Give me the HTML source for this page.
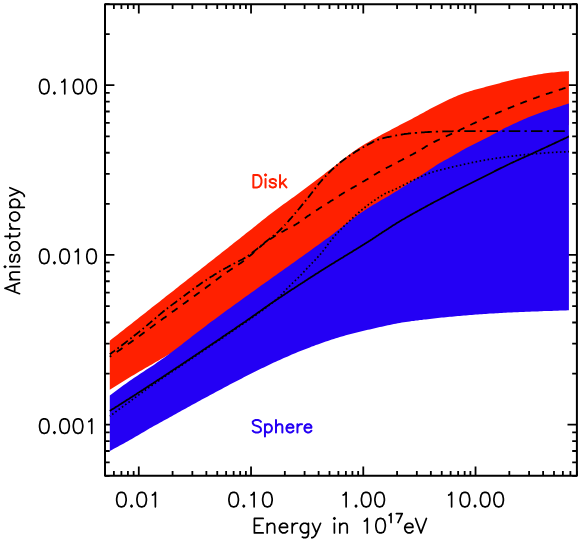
<!DOCTYPE html>
<html><head><meta charset="utf-8"><title>Anisotropy</title>
<style>html,body{margin:0;padding:0;background:#fff;}body{font-family:"Liberation Sans",sans-serif;}svg{display:block;}</style></head>
<body>
<svg width="581" height="542" viewBox="0 0 581 542">
<rect width="581" height="542" fill="#fff"/>
<path d="M105.00 475.8V471.10M105.00 4.2V8.90M113.89 475.8V471.10M113.89 4.2V8.90M121.40 475.8V471.10M121.40 4.2V8.90M127.91 475.8V471.10M127.91 4.2V8.90M133.65 475.8V471.10M133.65 4.2V8.90M138.79 475.8V466.40M138.79 4.2V13.60M172.58 475.8V471.10M172.58 4.2V8.90M192.35 475.8V471.10M192.35 4.2V8.90M206.37 475.8V471.10M206.37 4.2V8.90M217.25 475.8V471.10M217.25 4.2V8.90M226.13 475.8V471.10M226.13 4.2V8.90M233.65 475.8V471.10M233.65 4.2V8.90M240.16 475.8V471.10M240.16 4.2V8.90M245.90 475.8V471.10M245.90 4.2V8.90M251.04 475.8V466.40M251.04 4.2V13.60M284.83 475.8V471.10M284.83 4.2V8.90M304.59 475.8V471.10M304.59 4.2V8.90M318.62 475.8V471.10M318.62 4.2V8.90M329.49 475.8V471.10M329.49 4.2V8.90M338.38 475.8V471.10M338.38 4.2V8.90M345.90 475.8V471.10M345.90 4.2V8.90M352.41 475.8V471.10M352.41 4.2V8.90M358.15 475.8V471.10M358.15 4.2V8.90M363.28 475.8V466.40M363.28 4.2V13.60M397.07 475.8V471.10M397.07 4.2V8.90M416.84 475.8V471.10M416.84 4.2V8.90M430.86 475.8V471.10M430.86 4.2V8.90M441.74 475.8V471.10M441.74 4.2V8.90M450.63 475.8V471.10M450.63 4.2V8.90M458.14 475.8V471.10M458.14 4.2V8.90M464.65 475.8V471.10M464.65 4.2V8.90M470.39 475.8V471.10M470.39 4.2V8.90M475.53 475.8V466.40M475.53 4.2V13.60M509.32 475.8V471.10M509.32 4.2V8.90M529.09 475.8V471.10M529.09 4.2V8.90M543.11 475.8V471.10M543.11 4.2V8.90M553.99 475.8V471.10M553.99 4.2V8.90M562.88 475.8V471.10M562.88 4.2V8.90M570.39 475.8V471.10M570.39 4.2V8.90M576.90 475.8V471.10M576.90 4.2V8.90M105.0 475.80H109.70M576.9 475.80H572.20M105.0 462.36H109.70M576.9 462.36H572.20M105.0 450.99H109.70M576.9 450.99H572.20M105.0 441.15H109.70M576.9 441.15H572.20M105.0 432.47H109.70M576.9 432.47H572.20M105.0 424.70H114.40M576.9 424.70H567.50M105.0 373.60H109.70M576.9 373.60H572.20M105.0 343.71H109.70M576.9 343.71H572.20M105.0 322.50H109.70M576.9 322.50H572.20M105.0 306.05H109.70M576.9 306.05H572.20M105.0 292.61H109.70M576.9 292.61H572.20M105.0 281.24H109.70M576.9 281.24H572.20M105.0 271.40H109.70M576.9 271.40H572.20M105.0 262.71H109.70M576.9 262.71H572.20M105.0 254.95H114.40M576.9 254.95H567.50M105.0 203.85H109.70M576.9 203.85H572.20M105.0 173.95H109.70M576.9 173.95H572.20M105.0 152.74H109.70M576.9 152.74H572.20M105.0 136.29H109.70M576.9 136.29H572.20M105.0 122.85H109.70M576.9 122.85H572.20M105.0 111.49H109.70M576.9 111.49H572.20M105.0 101.64H109.70M576.9 101.64H572.20M105.0 92.96H109.70M576.9 92.96H572.20M105.0 85.19H114.40M576.9 85.19H567.50M105.0 34.09H109.70M576.9 34.09H572.20M105.0 4.20H109.70M576.9 4.20H572.20" stroke="#000" stroke-width="1.8" fill="none"/>
<rect x="105.0" y="4.2" width="471.9" height="471.6" fill="none" stroke="#000" stroke-width="2" stroke-linejoin="round"/>
<polygon points="109.8,340.7 111.8,339.1 113.8,337.6 115.8,336.0 117.8,334.4 119.8,332.8 121.8,331.3 123.8,329.7 125.8,328.1 127.8,326.5 129.8,325.0 131.8,323.4 133.8,321.8 135.8,320.2 137.8,318.7 139.8,317.1 141.8,315.5 143.8,313.9 145.8,312.4 147.8,310.8 149.8,309.2 151.8,307.6 153.8,306.1 155.8,304.5 157.8,302.9 159.8,301.4 161.8,299.8 163.8,298.2 165.8,296.6 167.8,295.1 169.8,293.5 171.8,291.9 173.8,290.4 175.8,288.8 177.8,287.2 179.8,285.6 181.8,284.1 183.8,282.5 185.8,280.9 187.8,279.3 189.8,277.8 191.8,276.2 193.8,274.6 195.8,273.1 197.8,271.5 199.8,269.9 201.8,268.3 203.8,266.8 205.8,265.2 207.8,263.6 209.8,262.0 211.8,260.5 213.8,258.9 215.8,257.3 217.8,255.7 219.8,254.2 221.8,252.6 223.8,251.0 225.8,249.4 227.8,247.9 229.8,246.3 231.8,244.7 233.8,243.1 235.8,241.5 237.8,240.0 239.8,238.4 241.8,236.8 243.8,235.2 245.8,233.6 247.8,232.0 249.8,230.5 251.8,228.9 253.8,227.3 255.8,225.7 257.8,224.1 259.8,222.4 261.8,220.8 263.8,219.2 265.8,217.7 267.8,216.1 269.8,214.6 271.8,213.0 273.8,211.5 275.8,210.0 277.8,208.5 279.8,207.1 281.8,205.6 283.8,204.1 285.8,202.7 287.8,201.2 289.8,199.8 291.8,198.3 293.8,196.9 295.8,195.4 297.8,193.9 299.8,192.4 301.8,191.0 303.8,189.5 305.8,188.0 307.8,186.5 309.8,185.0 311.8,183.5 313.8,182.0 315.8,180.5 317.8,179.0 319.8,177.5 321.8,175.9 323.8,174.4 325.8,172.8 327.8,171.3 329.8,169.7 331.8,168.2 333.8,166.7 335.8,165.1 337.8,163.6 339.8,162.0 341.8,160.4 343.8,158.8 345.8,157.3 347.8,155.7 349.8,154.2 351.8,152.7 353.8,151.3 355.8,149.9 357.8,148.6 359.8,147.3 361.8,146.0 363.8,144.8 365.8,143.6 367.8,142.4 369.8,141.3 371.8,140.1 373.8,139.0 375.8,137.9 377.8,136.8 379.8,135.7 381.8,134.6 383.8,133.5 385.8,132.5 387.8,131.4 389.8,130.4 391.8,129.3 393.8,128.3 395.8,127.2 397.8,126.2 399.8,125.1 401.8,124.1 403.8,123.1 405.8,122.0 407.8,121.0 409.8,119.9 411.8,118.9 413.8,117.8 415.8,116.8 417.8,115.7 419.8,114.6 421.8,113.5 423.8,112.4 425.8,111.3 427.8,110.2 429.8,109.1 431.8,108.0 433.8,106.9 435.8,105.9 437.8,104.9 439.8,103.9 441.8,102.9 443.8,102.0 445.8,101.0 447.8,100.1 449.8,99.1 451.8,98.2 453.8,97.3 455.8,96.4 457.8,95.6 459.8,94.8 461.8,94.0 463.8,93.3 465.8,92.6 467.8,92.0 469.8,91.3 471.8,90.7 473.8,90.1 475.8,89.6 477.8,89.0 479.8,88.5 481.8,87.9 483.8,87.4 485.8,86.8 487.8,86.3 489.8,85.8 491.8,85.2 493.8,84.7 495.8,84.2 497.8,83.7 499.8,83.2 501.8,82.6 503.8,82.1 505.8,81.6 507.8,81.1 509.8,80.6 511.8,80.1 513.8,79.6 515.8,79.1 517.8,78.6 519.8,78.2 521.8,77.7 523.8,77.3 525.8,76.9 527.8,76.4 529.8,76.0 531.8,75.7 533.8,75.3 535.8,74.9 537.8,74.5 539.8,74.2 541.8,73.9 543.8,73.6 545.8,73.3 547.8,73.0 549.8,72.8 551.8,72.6 553.8,72.4 555.8,72.2 557.8,72.0 559.8,71.8 561.8,71.6 563.8,71.4 565.8,71.3 567.8,71.2 568.9,71.1 568.9,125.0 567.8,125.4 565.8,126.2 563.8,126.9 561.8,127.7 559.8,128.4 557.8,129.2 555.8,130.0 553.8,130.8 551.8,131.6 549.8,132.4 547.8,133.2 545.8,134.0 543.8,134.8 541.8,135.6 539.8,136.4 537.8,137.2 535.8,138.1 533.8,138.9 531.8,139.7 529.8,140.6 527.8,141.4 525.8,142.3 523.8,143.2 521.8,144.0 519.8,144.9 517.8,145.8 515.8,146.7 513.8,147.5 511.8,148.4 509.8,149.3 507.8,150.2 505.8,151.1 503.8,152.1 501.8,153.0 499.8,153.9 497.8,154.8 495.8,155.7 493.8,156.7 491.8,157.6 489.8,158.6 487.8,159.5 485.8,160.5 483.8,161.4 481.8,162.4 479.8,163.3 477.8,164.3 475.8,165.3 473.8,166.3 471.8,167.3 469.8,168.2 467.8,169.2 465.8,170.2 463.8,171.2 461.8,172.2 459.8,173.2 457.8,174.2 455.8,175.3 453.8,176.3 451.8,177.3 449.8,178.3 447.8,179.4 445.8,180.4 443.8,181.4 441.8,182.5 439.8,183.5 437.8,184.6 435.8,185.6 433.8,186.7 431.8,187.7 429.8,188.8 427.8,189.9 425.8,190.9 423.8,192.0 421.8,193.1 419.8,194.1 417.8,195.2 415.8,196.3 413.8,197.4 411.8,198.5 409.8,199.6 407.8,200.7 405.8,201.8 403.8,202.9 401.8,204.0 399.8,205.1 397.8,206.2 395.8,207.4 393.8,208.5 391.8,209.7 389.8,210.8 387.8,212.0 385.8,213.2 383.8,214.4 381.8,215.6 379.8,216.9 377.8,218.1 375.8,219.3 373.8,220.6 371.8,221.9 369.8,223.1 367.8,224.4 365.8,225.7 363.8,227.0 361.8,228.3 359.8,229.6 357.8,231.0 355.8,232.3 353.8,233.6 351.8,235.0 349.8,236.3 347.8,237.7 345.8,239.0 343.8,240.4 341.8,241.8 339.8,243.1 337.8,244.5 335.8,245.9 333.8,247.3 331.8,248.7 329.8,250.1 327.8,251.5 325.8,252.9 323.8,254.3 321.8,255.7 319.8,257.1 317.8,258.5 315.8,259.9 313.8,261.3 311.8,262.7 309.8,264.2 307.8,265.6 305.8,267.0 303.8,268.4 301.8,269.8 299.8,271.2 297.8,272.6 295.8,274.0 293.8,275.4 291.8,276.8 289.8,278.2 287.8,279.6 285.8,281.0 283.8,282.4 281.8,283.8 279.8,285.1 277.8,286.5 275.8,287.9 273.8,289.3 271.8,290.6 269.8,292.0 267.8,293.3 265.8,294.7 263.8,296.0 261.8,297.3 259.8,298.6 257.8,300.0 255.8,301.3 253.8,302.6 251.8,303.8 249.8,305.1 247.8,306.4 245.8,307.7 243.8,308.9 241.8,310.2 239.8,311.5 237.8,312.8 235.8,314.0 233.8,315.3 231.8,316.5 229.8,317.8 227.8,319.0 225.8,320.3 223.8,321.5 221.8,322.8 219.8,324.0 217.8,325.3 215.8,326.5 213.8,327.8 211.8,329.0 209.8,330.2 207.8,331.4 205.8,332.7 203.8,333.9 201.8,335.1 199.8,336.3 197.8,337.5 195.8,338.7 193.8,339.9 191.8,341.1 189.8,342.3 187.8,343.5 185.8,344.7 183.8,345.9 181.8,347.1 179.8,348.2 177.8,349.4 175.8,350.6 173.8,351.7 171.8,352.8 169.8,354.0 167.8,355.1 165.8,356.3 163.8,357.4 161.8,358.6 159.8,359.7 157.8,360.9 155.8,362.0 153.8,363.2 151.8,364.4 149.8,365.5 147.8,366.7 145.8,367.8 143.8,369.0 141.8,370.2 139.8,371.3 137.8,372.5 135.8,373.7 133.8,374.9 131.8,376.1 129.8,377.3 127.8,378.5 125.8,379.7 123.8,380.9 121.8,382.2 119.8,383.4 117.8,384.7 115.8,385.9 113.8,387.2 111.8,388.5 109.8,389.8" fill="#ff2000"/>
<polygon points="109.8,395.5 111.8,394.0 113.8,392.5 115.8,391.0 117.8,389.5 119.8,388.0 121.8,386.6 123.8,385.1 125.8,383.7 127.8,382.3 129.8,380.8 131.8,379.4 133.8,378.1 135.8,376.7 137.8,375.4 139.8,374.0 141.8,372.7 143.8,371.4 145.8,370.1 147.8,368.8 149.8,367.5 151.8,366.2 153.8,364.9 155.8,363.5 157.8,362.1 159.8,360.7 161.8,359.3 163.8,357.9 165.8,356.4 167.8,355.0 169.8,353.5 171.8,352.0 173.8,350.5 175.8,349.0 177.8,347.5 179.8,345.9 181.8,344.4 183.8,342.8 185.8,341.3 187.8,339.8 189.8,338.2 191.8,336.6 193.8,335.1 195.8,333.5 197.8,332.0 199.8,330.5 201.8,328.9 203.8,327.4 205.8,325.9 207.8,324.3 209.8,322.8 211.8,321.3 213.8,319.9 215.8,318.4 217.8,316.9 219.8,315.4 221.8,314.0 223.8,312.5 225.8,311.1 227.8,309.6 229.8,308.2 231.8,306.7 233.8,305.3 235.8,303.8 237.8,302.4 239.8,300.9 241.8,299.5 243.8,298.1 245.8,296.6 247.8,295.2 249.8,293.7 251.8,292.3 253.8,290.9 255.8,289.4 257.8,288.0 259.8,286.6 261.8,285.1 263.8,283.7 265.8,282.3 267.8,280.9 269.8,279.4 271.8,278.0 273.8,276.6 275.8,275.2 277.8,273.8 279.8,272.3 281.8,270.9 283.8,269.5 285.8,268.1 287.8,266.7 289.8,265.2 291.8,263.8 293.8,262.4 295.8,261.0 297.8,259.5 299.8,258.1 301.8,256.7 303.8,255.3 305.8,253.8 307.8,252.4 309.8,251.0 311.8,249.5 313.8,248.1 315.8,246.6 317.8,245.2 319.8,243.7 321.8,242.3 323.8,240.8 325.8,239.3 327.8,237.9 329.8,236.4 331.8,234.9 333.8,233.4 335.8,231.8 337.8,230.3 339.8,228.7 341.8,227.2 343.8,225.6 345.8,224.1 347.8,222.5 349.8,221.0 351.8,219.5 353.8,218.0 355.8,216.5 357.8,215.0 359.8,213.6 361.8,212.2 363.8,210.9 365.8,209.5 367.8,208.3 369.8,207.0 371.8,205.8 373.8,204.6 375.8,203.4 377.8,202.2 379.8,201.0 381.8,199.8 383.8,198.7 385.8,197.5 387.8,196.4 389.8,195.2 391.8,194.0 393.8,192.8 395.8,191.6 397.8,190.4 399.8,189.1 401.8,187.8 403.8,186.6 405.8,185.3 407.8,184.0 409.8,182.7 411.8,181.4 413.8,180.1 415.8,178.8 417.8,177.5 419.8,176.2 421.8,174.9 423.8,173.6 425.8,172.3 427.8,170.9 429.8,169.6 431.8,168.3 433.8,166.9 435.8,165.6 437.8,164.3 439.8,163.1 441.8,162.0 443.8,160.8 445.8,159.8 447.8,158.7 449.8,157.6 451.8,156.5 453.8,155.3 455.8,154.1 457.8,152.9 459.8,151.7 461.8,150.5 463.8,149.4 465.8,148.3 467.8,147.2 469.8,146.2 471.8,145.2 473.8,144.2 475.8,143.3 477.8,142.3 479.8,141.3 481.8,140.3 483.8,139.3 485.8,138.3 487.8,137.3 489.8,136.2 491.8,135.1 493.8,134.0 495.8,132.9 497.8,131.8 499.8,130.7 501.8,129.7 503.8,128.6 505.8,127.6 507.8,126.7 509.8,125.7 511.8,124.8 513.8,123.8 515.8,122.9 517.8,122.0 519.8,121.1 521.8,120.2 523.8,119.3 525.8,118.4 527.8,117.6 529.8,116.8 531.8,116.0 533.8,115.2 535.8,114.4 537.8,113.7 539.8,113.0 541.8,112.3 543.8,111.6 545.8,111.0 547.8,110.3 549.8,109.6 551.8,109.0 553.8,108.3 555.8,107.7 557.8,107.0 559.8,106.4 561.8,105.7 563.8,105.1 565.8,104.5 567.8,103.8 568.9,103.5 568.9,310.3 567.8,310.3 565.8,310.4 563.8,310.5 561.8,310.5 559.8,310.6 557.8,310.7 555.8,310.7 553.8,310.8 551.8,310.9 549.8,310.9 547.8,311.0 545.8,311.1 543.8,311.1 541.8,311.2 539.8,311.3 537.8,311.4 535.8,311.4 533.8,311.5 531.8,311.6 529.8,311.7 527.8,311.8 525.8,311.8 523.8,311.9 521.8,312.0 519.8,312.1 517.8,312.2 515.8,312.3 513.8,312.3 511.8,312.4 509.8,312.5 507.8,312.6 505.8,312.7 503.8,312.8 501.8,312.9 499.8,313.1 497.8,313.2 495.8,313.3 493.8,313.4 491.8,313.5 489.8,313.6 487.8,313.8 485.8,313.9 483.8,314.0 481.8,314.2 479.8,314.3 477.8,314.4 475.8,314.6 473.8,314.7 471.8,314.9 469.8,315.1 467.8,315.2 465.8,315.4 463.8,315.6 461.8,315.8 459.8,315.9 457.8,316.1 455.8,316.3 453.8,316.5 451.8,316.7 449.8,316.8 447.8,317.0 445.8,317.2 443.8,317.4 441.8,317.6 439.8,317.8 437.8,318.1 435.8,318.3 433.8,318.5 431.8,318.7 429.8,318.9 427.8,319.2 425.8,319.4 423.8,319.6 421.8,319.9 419.8,320.1 417.8,320.4 415.8,320.6 413.8,320.9 411.8,321.1 409.8,321.4 407.8,321.7 405.8,322.0 403.8,322.3 401.8,322.6 399.8,322.9 397.8,323.3 395.8,323.7 393.8,324.1 391.8,324.5 389.8,324.9 387.8,325.3 385.8,325.8 383.8,326.2 381.8,326.7 379.8,327.1 377.8,327.6 375.8,328.0 373.8,328.5 371.8,328.9 369.8,329.4 367.8,329.8 365.8,330.3 363.8,330.7 361.8,331.2 359.8,331.7 357.8,332.2 355.8,332.7 353.8,333.2 351.8,333.7 349.8,334.2 347.8,334.8 345.8,335.3 343.8,335.9 341.8,336.5 339.8,337.1 337.8,337.7 335.8,338.3 333.8,339.0 331.8,339.6 329.8,340.2 327.8,340.9 325.8,341.6 323.8,342.3 321.8,342.9 319.8,343.7 317.8,344.4 315.8,345.1 313.8,345.9 311.8,346.6 309.8,347.4 307.8,348.2 305.8,348.9 303.8,349.7 301.8,350.5 299.8,351.3 297.8,352.1 295.8,353.0 293.8,353.8 291.8,354.6 289.8,355.5 287.8,356.4 285.8,357.2 283.8,358.1 281.8,359.0 279.8,359.9 277.8,360.8 275.8,361.7 273.8,362.6 271.8,363.5 269.8,364.5 267.8,365.4 265.8,366.4 263.8,367.4 261.8,368.3 259.8,369.3 257.8,370.3 255.8,371.3 253.8,372.3 251.8,373.3 249.8,374.3 247.8,375.3 245.8,376.3 243.8,377.3 241.8,378.4 239.8,379.4 237.8,380.4 235.8,381.5 233.8,382.5 231.8,383.6 229.8,384.6 227.8,385.7 225.8,386.7 223.8,387.8 221.8,388.9 219.8,389.9 217.8,391.0 215.8,392.1 213.8,393.2 211.8,394.2 209.8,395.3 207.8,396.4 205.8,397.5 203.8,398.5 201.8,399.6 199.8,400.7 197.8,401.8 195.8,402.9 193.8,404.0 191.8,405.1 189.8,406.2 187.8,407.3 185.8,408.4 183.8,409.5 181.8,410.6 179.8,411.7 177.8,412.8 175.8,413.9 173.8,415.0 171.8,416.2 169.8,417.3 167.8,418.4 165.8,419.5 163.8,420.6 161.8,421.7 159.8,422.8 157.8,423.9 155.8,425.0 153.8,426.1 151.8,427.2 149.8,428.3 147.8,429.5 145.8,430.7 143.8,431.9 141.8,433.1 139.8,434.3 137.8,435.5 135.8,436.6 133.8,437.8 131.8,438.9 129.8,440.0 127.8,441.2 125.8,442.3 123.8,443.4 121.8,444.5 119.8,445.6 117.8,446.7 115.8,447.7 113.8,448.8 111.8,449.9 109.8,450.9" fill="#2400f4"/>
<polyline points="109.8,410.9 110.8,410.3 111.8,409.6 112.8,409.0 113.8,408.4 114.8,407.8 115.8,407.1 116.8,406.5 117.8,405.9 118.8,405.2 119.8,404.6 120.8,404.0 121.8,403.3 122.8,402.7 123.8,402.1 124.8,401.4 125.8,400.8 126.8,400.1 127.8,399.5 128.8,398.9 129.8,398.2 130.8,397.6 131.8,397.0 132.8,396.3 133.8,395.7 134.8,395.0 135.8,394.4 136.8,393.7 137.8,393.1 138.8,392.5 139.8,391.8 140.8,391.2 141.8,390.5 142.8,389.9 143.8,389.2 144.8,388.6 145.8,387.9 146.8,387.3 147.8,386.6 148.8,386.0 149.8,385.3 150.8,384.7 151.8,384.0 152.8,383.4 153.8,382.7 154.8,382.1 155.8,381.4 156.8,380.8 157.8,380.1 158.8,379.5 159.8,378.8 160.8,378.2 161.8,377.5 162.8,376.9 163.8,376.2 164.8,375.5 165.8,374.9 166.8,374.2 167.8,373.6 168.8,372.9 169.8,372.3 170.8,371.6 171.8,370.9 172.8,370.3 173.8,369.6 174.8,369.0 175.8,368.3 176.8,367.6 177.8,367.0 178.8,366.3 179.8,365.7 180.8,365.0 181.8,364.3 182.8,363.7 183.8,363.0 184.8,362.3 185.8,361.7 186.8,361.0 187.8,360.3 188.8,359.7 189.8,359.0 190.8,358.3 191.8,357.7 192.8,357.0 193.8,356.3 194.8,355.7 195.8,355.0 196.8,354.3 197.8,353.7 198.8,353.0 199.8,352.3 200.8,351.7 201.8,351.0 202.8,350.3 203.8,349.6 204.8,349.0 205.8,348.3 206.8,347.6 207.8,347.0 208.8,346.3 209.8,345.6 210.8,344.9 211.8,344.3 212.8,343.6 213.8,342.9 214.8,342.2 215.8,341.6 216.8,340.9 217.8,340.2 218.8,339.5 219.8,338.9 220.8,338.2 221.8,337.5 222.8,336.8 223.8,336.1 224.8,335.5 225.8,334.8 226.8,334.1 227.8,333.4 228.8,332.8 229.8,332.1 230.8,331.4 231.8,330.7 232.8,330.0 233.8,329.4 234.8,328.7 235.8,328.0 236.8,327.3 237.8,326.6 238.8,326.0 239.8,325.3 240.8,324.6 241.8,323.9 242.8,323.2 243.8,322.5 244.8,321.9 245.8,321.2 246.8,320.5 247.8,319.8 248.8,319.1 249.8,318.4 250.8,317.7 251.8,317.0 252.8,316.3 253.8,315.6 254.8,314.9 255.8,314.2 256.8,313.5 257.8,312.8 258.8,312.1 259.8,311.4 260.8,310.6 261.8,309.9 262.8,309.2 263.8,308.5 264.8,307.8 265.8,307.1 266.8,306.4 267.8,305.7 268.8,305.0 269.8,304.3 270.8,303.6 271.8,302.9 272.8,302.2 273.8,301.6 274.8,300.9 275.8,300.2 276.8,299.5 277.8,298.9 278.8,298.2 279.8,297.5 280.8,296.9 281.8,296.2 282.8,295.5 283.8,294.9 284.8,294.2 285.8,293.6 286.8,292.9 287.8,292.2 288.8,291.6 289.8,290.9 290.8,290.3 291.8,289.6 292.8,289.0 293.8,288.4 294.8,287.7 295.8,287.1 296.8,286.4 297.8,285.8 298.8,285.1 299.8,284.5 300.8,283.8 301.8,283.2 302.8,282.5 303.8,281.9 304.8,281.2 305.8,280.6 306.8,279.9 307.8,279.3 308.8,278.6 309.8,278.0 310.8,277.3 311.8,276.7 312.8,276.1 313.8,275.4 314.8,274.8 315.8,274.1 316.8,273.5 317.8,272.9 318.8,272.2 319.8,271.6 320.8,270.9 321.8,270.3 322.8,269.7 323.8,269.1 324.8,268.4 325.8,267.8 326.8,267.2 327.8,266.6 328.8,265.9 329.8,265.3 330.8,264.7 331.8,264.1 332.8,263.5 333.8,262.9 334.8,262.2 335.8,261.6 336.8,261.0 337.8,260.4 338.8,259.8 339.8,259.2 340.8,258.6 341.8,258.0 342.8,257.4 343.8,256.7 344.8,256.1 345.8,255.5 346.8,254.9 347.8,254.3 348.8,253.7 349.8,253.1 350.8,252.5 351.8,251.9 352.8,251.3 353.8,250.6 354.8,250.0 355.8,249.4 356.8,248.8 357.8,248.2 358.8,247.6 359.8,247.0 360.8,246.3 361.8,245.7 362.8,245.1 363.8,244.5 364.8,243.8 365.8,243.2 366.8,242.6 367.8,242.0 368.8,241.3 369.8,240.7 370.8,240.0 371.8,239.4 372.8,238.7 373.8,238.1 374.8,237.4 375.8,236.8 376.8,236.1 377.8,235.5 378.8,234.8 379.8,234.1 380.8,233.5 381.8,232.8 382.8,232.1 383.8,231.5 384.8,230.8 385.8,230.2 386.8,229.5 387.8,228.9 388.8,228.2 389.8,227.6 390.8,226.9 391.8,226.3 392.8,225.6 393.8,225.0 394.8,224.4 395.8,223.8 396.8,223.1 397.8,222.5 398.8,221.9 399.8,221.3 400.8,220.7 401.8,220.1 402.8,219.5 403.8,219.0 404.8,218.4 405.8,217.8 406.8,217.2 407.8,216.6 408.8,216.1 409.8,215.5 410.8,214.9 411.8,214.4 412.8,213.8 413.8,213.2 414.8,212.7 415.8,212.1 416.8,211.6 417.8,211.0 418.8,210.5 419.8,209.9 420.8,209.4 421.8,208.8 422.8,208.3 423.8,207.7 424.8,207.2 425.8,206.6 426.8,206.1 427.8,205.5 428.8,205.0 429.8,204.5 430.8,203.9 431.8,203.4 432.8,202.9 433.8,202.3 434.8,201.8 435.8,201.3 436.8,200.8 437.8,200.2 438.8,199.7 439.8,199.2 440.8,198.6 441.8,198.1 442.8,197.6 443.8,197.1 444.8,196.6 445.8,196.0 446.8,195.5 447.8,195.0 448.8,194.5 449.8,193.9 450.8,193.4 451.8,192.9 452.8,192.4 453.8,191.9 454.8,191.3 455.8,190.8 456.8,190.3 457.8,189.8 458.8,189.3 459.8,188.7 460.8,188.2 461.8,187.7 462.8,187.2 463.8,186.7 464.8,186.2 465.8,185.7 466.8,185.2 467.8,184.7 468.8,184.2 469.8,183.7 470.8,183.2 471.8,182.7 472.8,182.2 473.8,181.7 474.8,181.2 475.8,180.7 476.8,180.2 477.8,179.7 478.8,179.2 479.8,178.7 480.8,178.2 481.8,177.7 482.8,177.2 483.8,176.7 484.8,176.2 485.8,175.7 486.8,175.2 487.8,174.7 488.8,174.2 489.8,173.7 490.8,173.2 491.8,172.7 492.8,172.2 493.8,171.7 494.8,171.1 495.8,170.6 496.8,170.1 497.8,169.6 498.8,169.1 499.8,168.6 500.8,168.1 501.8,167.7 502.8,167.2 503.8,166.7 504.8,166.2 505.8,165.7 506.8,165.2 507.8,164.7 508.8,164.3 509.8,163.8 510.8,163.3 511.8,162.8 512.8,162.4 513.8,161.9 514.8,161.5 515.8,161.0 516.8,160.5 517.8,160.1 518.8,159.6 519.8,159.2 520.8,158.7 521.8,158.3 522.8,157.8 523.8,157.4 524.8,156.9 525.8,156.5 526.8,156.0 527.8,155.6 528.8,155.1 529.8,154.7 530.8,154.2 531.8,153.7 532.8,153.3 533.8,152.8 534.8,152.4 535.8,151.9 536.8,151.4 537.8,151.0 538.8,150.5 539.8,150.1 540.8,149.6 541.8,149.1 542.8,148.7 543.8,148.2 544.8,147.7 545.8,147.3 546.8,146.8 547.8,146.4 548.8,145.9 549.8,145.4 550.8,145.0 551.8,144.5 552.8,144.0 553.8,143.6 554.8,143.1 555.8,142.6 556.8,142.2 557.8,141.7 558.8,141.2 559.8,140.8 560.8,140.3 561.8,139.8 562.8,139.4 563.8,138.9 564.8,138.4 565.8,138.0 566.8,137.5 567.8,137.0 568.8,136.5 568.9,136.5" fill="none" stroke="#000" stroke-width="1.8"/>
<polyline points="109.8,416.2 110.8,415.5 111.8,414.7 112.8,414.0 113.8,413.2 114.8,412.5 115.8,411.7 116.8,411.0 117.8,410.3 118.8,409.5 119.8,408.8 120.8,408.1 121.8,407.3 122.8,406.6 123.8,405.8 124.8,405.1 125.8,404.4 126.8,403.6 127.8,402.9 128.8,402.2 129.8,401.4 130.8,400.7 131.8,400.0 132.8,399.2 133.8,398.5 134.8,397.8 135.8,397.1 136.8,396.3 137.8,395.6 138.8,394.9 139.8,394.1 140.8,393.4 141.8,392.7 142.8,391.9 143.8,391.2 144.8,390.5 145.8,389.8 146.8,389.1 147.8,388.4 148.8,387.6 149.8,386.9 150.8,386.2 151.8,385.5 152.8,384.8 153.8,384.1 154.8,383.4 155.8,382.8 156.8,382.1 157.8,381.4 158.8,380.7 159.8,380.0 160.8,379.3 161.8,378.6 162.8,378.0 163.8,377.3 164.8,376.6 165.8,375.9 166.8,375.2 167.8,374.6 168.8,373.9 169.8,373.2 170.8,372.5 171.8,371.9 172.8,371.2 173.8,370.5 174.8,369.9 175.8,369.2 176.8,368.5 177.8,367.9 178.8,367.2 179.8,366.5 180.8,365.9 181.8,365.2 182.8,364.5 183.8,363.9 184.8,363.2 185.8,362.5 186.8,361.9 187.8,361.2 188.8,360.5 189.8,359.9 190.8,359.2 191.8,358.5 192.8,357.8 193.8,357.2 194.8,356.5 195.8,355.8 196.8,355.2 197.8,354.5 198.8,353.8 199.8,353.1 200.8,352.5 201.8,351.8 202.8,351.1 203.8,350.4 204.8,349.8 205.8,349.1 206.8,348.4 207.8,347.7 208.8,347.1 209.8,346.4 210.8,345.7 211.8,345.0 212.8,344.4 213.8,343.7 214.8,343.0 215.8,342.4 216.8,341.7 217.8,341.0 218.8,340.3 219.8,339.7 220.8,339.0 221.8,338.3 222.8,337.7 223.8,337.0 224.8,336.3 225.8,335.6 226.8,335.0 227.8,334.3 228.8,333.6 229.8,332.9 230.8,332.3 231.8,331.6 232.8,330.9 233.8,330.2 234.8,329.5 235.8,328.8 236.8,328.2 237.8,327.5 238.8,326.8 239.8,326.1 240.8,325.4 241.8,324.7 242.8,324.0 243.8,323.4 244.8,322.7 245.8,322.0 246.8,321.3 247.8,320.6 248.8,319.9 249.8,319.2 250.8,318.5 251.8,317.8 252.8,317.1 253.8,316.5 254.8,315.8 255.8,315.1 256.8,314.4 257.8,313.7 258.8,312.9 259.8,312.2 260.8,311.5 261.8,310.8 262.8,310.0 263.8,309.3 264.8,308.6 265.8,307.8 266.8,307.0 267.8,306.3 268.8,305.5 269.8,304.7 270.8,304.0 271.8,303.2 272.8,302.4 273.8,301.6 274.8,300.7 275.8,299.9 276.8,299.0 277.8,298.1 278.8,297.2 279.8,296.3 280.8,295.3 281.8,294.2 282.8,293.2 283.8,292.1 284.8,291.0 285.8,289.9 286.8,288.9 287.8,287.8 288.8,286.8 289.8,285.8 290.8,284.8 291.8,283.9 292.8,282.9 293.8,282.0 294.8,281.0 295.8,280.0 296.8,279.1 297.8,278.1 298.8,277.1 299.8,276.1 300.8,275.1 301.8,274.0 302.8,273.0 303.8,271.9 304.8,270.8 305.8,269.8 306.8,268.7 307.8,267.6 308.8,266.5 309.8,265.5 310.8,264.4 311.8,263.4 312.8,262.3 313.8,261.3 314.8,260.3 315.8,259.2 316.8,258.2 317.8,257.1 318.8,256.0 319.8,254.8 320.8,253.7 321.8,252.4 322.8,251.2 323.8,249.9 324.8,248.6 325.8,247.3 326.8,245.9 327.8,244.6 328.8,243.3 329.8,242.0 330.8,240.7 331.8,239.4 332.8,238.2 333.8,237.0 334.8,235.9 335.8,234.7 336.8,233.6 337.8,232.6 338.8,231.5 339.8,230.5 340.8,229.4 341.8,228.4 342.8,227.4 343.8,226.4 344.8,225.4 345.8,224.5 346.8,223.5 347.8,222.5 348.8,221.6 349.8,220.7 350.8,219.7 351.8,218.8 352.8,217.9 353.8,217.0 354.8,216.1 355.8,215.2 356.8,214.3 357.8,213.4 358.8,212.5 359.8,211.6 360.8,210.8 361.8,209.9 362.8,209.1 363.8,208.3 364.8,207.5 365.8,206.7 366.8,205.9 367.8,205.1 368.8,204.4 369.8,203.7 370.8,202.9 371.8,202.2 372.8,201.5 373.8,200.8 374.8,200.1 375.8,199.4 376.8,198.7 377.8,198.1 378.8,197.4 379.8,196.8 380.8,196.1 381.8,195.5 382.8,194.9 383.8,194.4 384.8,193.8 385.8,193.3 386.8,192.8 387.8,192.3 388.8,191.9 389.8,191.5 390.8,191.1 391.8,190.7 392.8,190.3 393.8,189.8 394.8,189.4 395.8,189.0 396.8,188.5 397.8,188.0 398.8,187.5 399.8,187.0 400.8,186.5 401.8,185.9 402.8,185.4 403.8,184.9 404.8,184.4 405.8,183.9 406.8,183.4 407.8,182.9 408.8,182.4 409.8,181.9 410.8,181.4 411.8,181.0 412.8,180.5 413.8,180.0 414.8,179.5 415.8,179.0 416.8,178.5 417.8,178.0 418.8,177.6 419.8,177.1 420.8,176.6 421.8,176.2 422.8,175.8 423.8,175.3 424.8,174.9 425.8,174.5 426.8,174.1 427.8,173.7 428.8,173.4 429.8,173.0 430.8,172.7 431.8,172.3 432.8,172.0 433.8,171.7 434.8,171.4 435.8,171.1 436.8,170.8 437.8,170.6 438.8,170.3 439.8,170.0 440.8,169.8 441.8,169.5 442.8,169.3 443.8,169.0 444.8,168.8 445.8,168.5 446.8,168.3 447.8,168.1 448.8,167.8 449.8,167.6 450.8,167.4 451.8,167.1 452.8,166.9 453.8,166.7 454.8,166.5 455.8,166.2 456.8,166.0 457.8,165.8 458.8,165.5 459.8,165.3 460.8,165.1 461.8,164.8 462.8,164.6 463.8,164.4 464.8,164.2 465.8,163.9 466.8,163.7 467.8,163.5 468.8,163.3 469.8,163.0 470.8,162.8 471.8,162.6 472.8,162.4 473.8,162.2 474.8,162.0 475.8,161.8 476.8,161.6 477.8,161.4 478.8,161.2 479.8,161.0 480.8,160.8 481.8,160.6 482.8,160.5 483.8,160.3 484.8,160.1 485.8,159.9 486.8,159.8 487.8,159.6 488.8,159.4 489.8,159.3 490.8,159.1 491.8,159.0 492.8,158.8 493.8,158.7 494.8,158.5 495.8,158.3 496.8,158.2 497.8,158.1 498.8,157.9 499.8,157.8 500.8,157.6 501.8,157.5 502.8,157.3 503.8,157.2 504.8,157.1 505.8,156.9 506.8,156.8 507.8,156.7 508.8,156.6 509.8,156.4 510.8,156.3 511.8,156.2 512.8,156.1 513.8,155.9 514.8,155.8 515.8,155.7 516.8,155.6 517.8,155.5 518.8,155.3 519.8,155.2 520.8,155.1 521.8,155.0 522.8,154.9 523.8,154.8 524.8,154.7 525.8,154.6 526.8,154.5 527.8,154.4 528.8,154.3 529.8,154.2 530.8,154.1 531.8,154.0 532.8,153.9 533.8,153.8 534.8,153.8 535.8,153.7 536.8,153.6 537.8,153.5 538.8,153.5 539.8,153.4 540.8,153.3 541.8,153.2 542.8,153.2 543.8,153.1 544.8,153.0 545.8,152.9 546.8,152.9 547.8,152.8 548.8,152.7 549.8,152.7 550.8,152.6 551.8,152.5 552.8,152.5 553.8,152.4 554.8,152.4 555.8,152.3 556.8,152.2 557.8,152.2 558.8,152.1 559.8,152.1 560.8,152.0 561.8,152.0 562.8,151.9 563.8,151.9 564.8,151.9 565.8,151.8 566.8,151.8 567.8,151.7 568.8,151.7 568.9,151.7" fill="none" stroke="#000" stroke-width="1.7" stroke-dasharray="1.6 2.45" stroke-dashoffset="1.13"/>
<polyline points="109.8,356.8 110.8,356.1 111.8,355.4 112.8,354.8 113.8,354.1 114.8,353.4 115.8,352.7 116.8,352.0 117.8,351.3 118.8,350.6 119.8,349.9 120.8,349.2 121.8,348.5 122.8,347.8 123.8,347.1 124.8,346.4 125.8,345.7 126.8,345.0 127.8,344.3 128.8,343.6 129.8,342.9 130.8,342.2 131.8,341.5 132.8,340.8 133.8,340.0 134.8,339.3 135.8,338.6 136.8,337.9 137.8,337.2 138.8,336.4 139.8,335.7 140.8,335.0 141.8,334.3 142.8,333.5 143.8,332.8 144.8,332.1 145.8,331.4 146.8,330.6 147.8,329.9 148.8,329.1 149.8,328.4 150.8,327.6 151.8,326.9 152.8,326.1 153.8,325.4 154.8,324.6 155.8,323.9 156.8,323.2 157.8,322.4 158.8,321.7 159.8,321.0 160.8,320.3 161.8,319.6 162.8,318.8 163.8,318.1 164.8,317.4 165.8,316.7 166.8,316.0 167.8,315.2 168.8,314.5 169.8,313.8 170.8,313.1 171.8,312.3 172.8,311.6 173.8,310.9 174.8,310.2 175.8,309.4 176.8,308.7 177.8,308.0 178.8,307.3 179.8,306.5 180.8,305.8 181.8,305.1 182.8,304.4 183.8,303.6 184.8,302.9 185.8,302.2 186.8,301.5 187.8,300.7 188.8,300.0 189.8,299.3 190.8,298.6 191.8,297.9 192.8,297.2 193.8,296.4 194.8,295.7 195.8,295.0 196.8,294.3 197.8,293.6 198.8,292.9 199.8,292.1 200.8,291.4 201.8,290.7 202.8,290.0 203.8,289.2 204.8,288.5 205.8,287.8 206.8,287.0 207.8,286.3 208.8,285.6 209.8,284.8 210.8,284.1 211.8,283.3 212.8,282.6 213.8,281.8 214.8,281.0 215.8,280.3 216.8,279.5 217.8,278.8 218.8,278.0 219.8,277.3 220.8,276.5 221.8,275.8 222.8,275.1 223.8,274.4 224.8,273.7 225.8,273.0 226.8,272.3 227.8,271.6 228.8,270.9 229.8,270.3 230.8,269.6 231.8,268.9 232.8,268.2 233.8,267.6 234.8,266.9 235.8,266.3 236.8,265.6 237.8,265.0 238.8,264.3 239.8,263.6 240.8,262.9 241.8,262.2 242.8,261.5 243.8,260.8 244.8,260.0 245.8,259.2 246.8,258.4 247.8,257.6 248.8,256.8 249.8,255.9 250.8,255.0 251.8,254.2 252.8,253.3 253.8,252.4 254.8,251.5 255.8,250.6 256.8,249.7 257.8,248.9 258.8,248.0 259.8,247.1 260.8,246.3 261.8,245.4 262.8,244.6 263.8,243.8 264.8,243.0 265.8,242.2 266.8,241.4 267.8,240.7 268.8,240.0 269.8,239.3 270.8,238.7 271.8,238.0 272.8,237.4 273.8,236.7 274.8,236.1 275.8,235.5 276.8,234.9 277.8,234.3 278.8,233.8 279.8,233.2 280.8,232.6 281.8,232.0 282.8,231.5 283.8,230.9 284.8,230.3 285.8,229.8 286.8,229.3 287.8,228.7 288.8,228.2 289.8,227.7 290.8,227.2 291.8,226.7 292.8,226.1 293.8,225.6 294.8,225.0 295.8,224.4 296.8,223.8 297.8,223.2 298.8,222.5 299.8,221.8 300.8,221.1 301.8,220.4 302.8,219.7 303.8,219.0 304.8,218.3 305.8,217.6 306.8,216.8 307.8,216.1 308.8,215.5 309.8,214.8 310.8,214.1 311.8,213.4 312.8,212.8 313.8,212.1 314.8,211.4 315.8,210.7 316.8,210.1 317.8,209.4 318.8,208.7 319.8,208.1 320.8,207.4 321.8,206.8 322.8,206.2 323.8,205.5 324.8,204.9 325.8,204.3 326.8,203.6 327.8,203.0 328.8,202.4 329.8,201.8 330.8,201.1 331.8,200.5 332.8,199.9 333.8,199.2 334.8,198.6 335.8,197.9 336.8,197.3 337.8,196.6 338.8,196.0 339.8,195.3 340.8,194.7 341.8,194.0 342.8,193.4 343.8,192.8 344.8,192.2 345.8,191.6 346.8,191.0 347.8,190.5 348.8,189.9 349.8,189.3 350.8,188.8 351.8,188.2 352.8,187.6 353.8,187.1 354.8,186.5 355.8,185.9 356.8,185.3 357.8,184.7 358.8,184.2 359.8,183.6 360.8,183.0 361.8,182.4 362.8,181.8 363.8,181.3 364.8,180.7 365.8,180.1 366.8,179.5 367.8,178.9 368.8,178.3 369.8,177.6 370.8,177.0 371.8,176.4 372.8,175.8 373.8,175.1 374.8,174.5 375.8,173.9 376.8,173.3 377.8,172.7 378.8,172.1 379.8,171.6 380.8,171.0 381.8,170.5 382.8,169.9 383.8,169.4 384.8,168.9 385.8,168.3 386.8,167.8 387.8,167.3 388.8,166.8 389.8,166.2 390.8,165.7 391.8,165.2 392.8,164.7 393.8,164.1 394.8,163.6 395.8,163.1 396.8,162.6 397.8,162.0 398.8,161.5 399.8,161.0 400.8,160.5 401.8,160.0 402.8,159.4 403.8,158.9 404.8,158.4 405.8,157.9 406.8,157.4 407.8,156.8 408.8,156.3 409.8,155.8 410.8,155.2 411.8,154.7 412.8,154.2 413.8,153.6 414.8,153.1 415.8,152.5 416.8,152.0 417.8,151.4 418.8,150.9 419.8,150.3 420.8,149.7 421.8,149.1 422.8,148.5 423.8,147.9 424.8,147.3 425.8,146.6 426.8,146.0 427.8,145.4 428.8,144.8 429.8,144.3 430.8,143.7 431.8,143.2 432.8,142.7 433.8,142.1 434.8,141.6 435.8,141.1 436.8,140.6 437.8,140.2 438.8,139.7 439.8,139.2 440.8,138.7 441.8,138.3 442.8,137.8 443.8,137.3 444.8,136.9 445.8,136.4 446.8,136.0 447.8,135.5 448.8,135.1 449.8,134.6 450.8,134.2 451.8,133.7 452.8,133.3 453.8,132.8 454.8,132.3 455.8,131.9 456.8,131.4 457.8,130.9 458.8,130.5 459.8,130.0 460.8,129.5 461.8,129.0 462.8,128.6 463.8,128.1 464.8,127.6 465.8,127.1 466.8,126.6 467.8,126.2 468.8,125.7 469.8,125.2 470.8,124.7 471.8,124.3 472.8,123.8 473.8,123.3 474.8,122.9 475.8,122.4 476.8,121.9 477.8,121.5 478.8,121.0 479.8,120.6 480.8,120.1 481.8,119.7 482.8,119.2 483.8,118.8 484.8,118.3 485.8,117.9 486.8,117.4 487.8,117.0 488.8,116.6 489.8,116.1 490.8,115.7 491.8,115.3 492.8,114.8 493.8,114.4 494.8,114.0 495.8,113.6 496.8,113.1 497.8,112.7 498.8,112.3 499.8,111.9 500.8,111.5 501.8,111.0 502.8,110.6 503.8,110.2 504.8,109.8 505.8,109.4 506.8,109.0 507.8,108.6 508.8,108.2 509.8,107.8 510.8,107.4 511.8,107.0 512.8,106.6 513.8,106.2 514.8,105.8 515.8,105.4 516.8,105.0 517.8,104.6 518.8,104.2 519.8,103.8 520.8,103.4 521.8,103.0 522.8,102.6 523.8,102.2 524.8,101.8 525.8,101.4 526.8,101.1 527.8,100.7 528.8,100.3 529.8,99.9 530.8,99.6 531.8,99.2 532.8,98.8 533.8,98.5 534.8,98.1 535.8,97.8 536.8,97.4 537.8,97.1 538.8,96.7 539.8,96.4 540.8,96.0 541.8,95.7 542.8,95.3 543.8,95.0 544.8,94.6 545.8,94.3 546.8,93.9 547.8,93.6 548.8,93.3 549.8,92.9 550.8,92.6 551.8,92.3 552.8,91.9 553.8,91.6 554.8,91.3 555.8,91.0 556.8,90.6 557.8,90.3 558.8,90.0 559.8,89.7 560.8,89.4 561.8,89.1 562.8,88.7 563.8,88.4 564.8,88.1 565.8,87.8 566.8,87.5 567.8,87.2 568.8,86.9 568.9,86.9" fill="none" stroke="#000" stroke-width="1.8" stroke-dasharray="7 6.6" stroke-dashoffset="5.19"/>
<path d="M109.8 354.3L110.8 353.6L111.8 352.8L112.8 352.1L113.8 351.4L114.8 350.6L115.0 350.5M117.5 348.6L118.5 347.8L118.8 347.6M121.3 345.8L122.3 345.0L123.3 344.2L124.3 343.5L125.3 342.7L126.3 341.9L127.3 341.1L127.8 340.7M130.3 338.8L131.3 338.0L131.6 337.8M133.8 336.0L134.8 335.2L135.8 334.4L136.8 333.7L137.8 332.9L138.8 332.1L139.8 331.3L140.1 331.1M142.6 329.0L143.6 328.2L143.8 328.0M146.3 325.9L147.3 325.1L148.3 324.3L149.3 323.4L150.3 322.6L151.3 321.7L152.3 320.9M154.8 318.8L155.8 317.9L156.1 317.7M158.3 315.8L159.3 314.9L160.3 314.1L161.3 313.2L162.3 312.4L163.3 311.5L164.3 310.7L164.6 310.5M166.8 308.7L167.8 308.0L168.1 307.8M170.6 305.9L171.6 305.1L172.6 304.4L173.6 303.6L174.6 302.9L175.6 302.2L176.6 301.4L177.1 301.1M179.8 299.0L180.8 298.3M183.6 296.2L184.6 295.4L185.6 294.7L186.6 293.9L187.6 293.2L188.6 292.4L189.6 291.7L189.8 291.5M192.6 289.5L193.6 288.7L193.8 288.6M196.3 286.8L197.3 286.1L198.3 285.4L199.3 284.7L200.3 284.0L201.3 283.3L202.3 282.6L202.8 282.3M205.6 280.4L206.6 279.7L206.8 279.6M209.6 277.8L210.6 277.1L211.6 276.5L212.6 275.9L213.6 275.2L214.6 274.6L215.6 274.0L216.6 273.4M219.3 271.7L220.3 271.1L220.6 271.0M223.3 269.4L224.3 268.8L225.3 268.3L226.3 267.7L227.3 267.2L228.3 266.6L229.3 266.1L230.3 265.5L230.8 265.3M233.6 263.8L234.6 263.3L235.1 263.0M238.1 261.5L239.1 261.0L240.1 260.5L241.1 260.0L242.1 259.5L243.1 258.9L244.1 258.3L245.1 257.7L245.3 257.5M247.8 255.9L248.8 255.2L249.1 255.0M251.8 253.0L252.8 252.2L253.8 251.4L254.8 250.7L255.8 249.9L256.8 249.1L257.8 248.3L258.1 248.1M260.6 246.0L261.6 245.2M264.1 243.1L265.1 242.3L266.1 241.5L267.1 240.7L268.1 239.9L269.1 239.1L270.1 238.3L270.3 238.1M272.8 236.2L273.8 235.4L274.1 235.2M276.6 233.2L277.6 232.3L278.6 231.4L279.6 230.5L280.6 229.5L281.6 228.5L282.3 227.7M284.6 225.3L285.3 224.5M287.6 222.0L288.6 220.9L289.6 219.7L290.6 218.6L291.6 217.5L292.6 216.3L292.8 216.0M294.8 213.7L295.8 212.5M297.8 210.1L298.8 209.0L299.8 207.8L300.8 206.6L301.8 205.3L302.8 204.1L303.1 203.8M305.1 201.4L306.1 200.1M308.1 197.7L309.1 196.4L310.1 195.1L311.1 193.8L312.1 192.5L312.8 191.5M314.8 188.9L315.8 187.6M317.8 185.1L318.8 183.8L319.8 182.6L320.8 181.5L321.8 180.3L322.8 179.2M325.1 176.7L326.1 175.6M328.3 173.3L329.3 172.3L330.3 171.3L331.3 170.3L332.3 169.4L333.3 168.5L334.1 167.8M336.3 165.8L337.3 165.0L337.6 164.8M339.8 162.8L340.8 162.0L341.8 161.2L342.8 160.5L343.8 159.7L344.8 159.0L345.8 158.3L346.3 157.9M348.8 156.2L349.8 155.5L350.3 155.2M352.8 153.5L353.8 152.9L354.8 152.3L355.8 151.6L356.8 151.0L357.8 150.4L358.8 149.8L359.8 149.2M362.6 147.5L363.6 147.0L364.1 146.7M366.8 145.2L367.8 144.6L368.8 144.1L369.8 143.6L370.8 143.1L371.8 142.6L372.8 142.0L373.8 141.5L374.3 141.3M377.3 140.0L378.3 139.6L379.1 139.3M382.3 138.3L383.3 138.1L384.3 137.8L385.3 137.6L386.3 137.4L387.3 137.2L388.3 137.0L389.3 136.8L390.3 136.6L391.3 136.4L391.6 136.3M395.3 135.6L396.3 135.4L397.1 135.3M400.8 134.6L401.8 134.5L402.8 134.3L403.8 134.2L404.8 134.0L405.8 133.9L406.8 133.8L407.8 133.7L408.8 133.5L409.8 133.4L410.8 133.3L411.1 133.3M414.8 132.9L415.8 132.9L416.8 132.8L417.1 132.8M421.1 132.5L422.1 132.4L423.1 132.3L424.1 132.3L425.1 132.2L426.1 132.1L427.1 132.1L428.1 132.0L429.1 132.0L430.1 131.9L431.1 131.8L431.8 131.8M435.8 131.6L436.8 131.6L437.8 131.6L438.1 131.6M442.3 131.5L443.3 131.4L444.3 131.4L445.3 131.4L446.3 131.4L447.3 131.3L448.3 131.3L449.3 131.3L450.3 131.3L451.3 131.3L452.3 131.3L453.3 131.2L453.6 131.2M457.6 131.2L458.6 131.2L459.6 131.2L460.1 131.2M464.3 131.1L465.3 131.1L466.3 131.1L467.3 131.1L468.3 131.1L469.3 131.1L470.3 131.1L471.3 131.1L472.3 131.1L473.3 131.1L474.3 131.1L475.3 131.1L475.6 131.1M479.8 131.1L480.8 131.1L481.8 131.1L482.3 131.1M486.6 131.1L487.6 131.1L488.6 131.1L489.6 131.1L490.6 131.1L491.6 131.1L492.6 131.1L493.6 131.1L494.6 131.1L495.6 131.1L496.6 131.1L497.6 131.1L498.1 131.1M502.3 131.1L503.3 131.1L504.3 131.1L504.6 131.1M508.8 131.1L509.8 131.1L510.8 131.1L511.8 131.1L512.8 131.1L513.8 131.1L514.8 131.1L515.8 131.1L516.8 131.1L517.8 131.1L518.8 131.1L519.8 131.1L520.3 131.1M524.5 131.1L525.5 131.1L526.5 131.1L526.8 131.1M531.0 131.1L532.0 131.1L533.0 131.1L534.0 131.1L535.0 131.1L536.0 131.1L537.0 131.1L538.0 131.1L539.0 131.1L540.0 131.1L541.0 131.1L542.0 131.1L542.5 131.1M546.8 131.1L547.8 131.1L548.8 131.1L549.0 131.1M553.3 131.1L554.3 131.1L555.3 131.1L556.3 131.1L557.3 131.1L558.3 131.1L559.3 131.1L560.3 131.1L561.3 131.1L562.3 131.1L563.3 131.1L564.3 131.1L564.8 131.1" fill="none" stroke="#000" stroke-width="1.8"/>
<path d="M120.74 492.34L118.71 493.03L117.36 495.10L116.69 498.54L116.69 500.60L117.36 504.05L118.71 506.11L120.74 506.80L122.09 506.80L124.11 506.11L125.46 504.05L126.14 500.60L126.14 498.54L125.46 495.10L124.11 493.03L122.09 492.34L120.74 492.34M131.54 505.42L130.86 506.11L131.54 506.80L132.21 506.11L131.54 505.42M140.99 492.34L138.96 493.03L137.61 495.10L136.94 498.54L136.94 500.60L137.61 504.05L138.96 506.11L140.99 506.80L142.34 506.80L144.36 506.11L145.71 504.05L146.39 500.60L146.39 498.54L145.71 495.10L144.36 493.03L142.34 492.34L140.99 492.34M152.46 495.10L153.81 494.41L155.37 492.34L155.37 506.80" fill="none" stroke="#000" stroke-width="1.7" stroke-linecap="round" stroke-linejoin="round"/>
<path d="M232.99 492.34L230.96 493.03L229.61 495.10L228.94 498.54L228.94 500.60L229.61 504.05L230.96 506.11L232.99 506.80L234.34 506.80L236.36 506.11L237.71 504.05L238.39 500.60L238.39 498.54L237.71 495.10L236.36 493.03L234.34 492.34L232.99 492.34M243.79 505.42L243.11 506.11L243.79 506.80L244.46 506.11L243.79 505.42M251.21 495.10L252.56 494.41L254.11 492.34L254.11 506.80M266.74 492.34L264.71 493.03L263.36 495.10L262.69 498.54L262.69 500.60L263.36 504.05L264.71 506.11L266.74 506.80L268.09 506.80L270.11 506.11L271.46 504.05L272.14 500.60L272.14 498.54L271.46 495.10L270.11 493.03L268.09 492.34L266.74 492.34" fill="none" stroke="#000" stroke-width="1.7" stroke-linecap="round" stroke-linejoin="round"/>
<path d="M343.21 495.10L344.56 494.41L346.11 492.34L346.11 506.80M356.03 505.42L355.36 506.11L356.03 506.80L356.71 506.11L356.03 505.42M365.48 492.34L363.46 493.03L362.11 495.10L361.43 498.54L361.43 500.60L362.11 504.05L363.46 506.11L365.48 506.80L366.83 506.80L368.86 506.11L370.21 504.05L370.88 500.60L370.88 498.54L370.21 495.10L368.86 493.03L366.83 492.34L365.48 492.34M378.98 492.34L376.96 493.03L375.61 495.10L374.93 498.54L374.93 500.60L375.61 504.05L376.96 506.11L378.98 506.80L380.33 506.80L382.36 506.11L383.71 504.05L384.38 500.60L384.38 498.54L383.71 495.10L382.36 493.03L380.33 492.34L378.98 492.34" fill="none" stroke="#000" stroke-width="1.7" stroke-linecap="round" stroke-linejoin="round"/>
<path d="M448.71 495.10L450.06 494.41L451.61 492.34L451.61 506.80M464.23 492.34L462.21 493.03L460.86 495.10L460.18 498.54L460.18 500.60L460.86 504.05L462.21 506.11L464.23 506.80L465.58 506.80L467.61 506.11L468.96 504.05L469.63 500.60L469.63 498.54L468.96 495.10L467.61 493.03L465.58 492.34L464.23 492.34M475.03 505.42L474.36 506.11L475.03 506.80L475.71 506.11L475.03 505.42M484.48 492.34L482.46 493.03L481.11 495.10L480.43 498.54L480.43 500.60L481.11 504.05L482.46 506.11L484.48 506.80L485.83 506.80L487.86 506.11L489.21 504.05L489.88 500.60L489.88 498.54L489.21 495.10L487.86 493.03L485.83 492.34L484.48 492.34M497.98 492.34L495.96 493.03L494.61 495.10L493.93 498.54L493.93 500.60L494.61 504.05L495.96 506.11L497.98 506.80L499.33 506.80L501.36 506.11L502.71 504.05L503.38 500.60L503.38 498.54L502.71 495.10L501.36 493.03L499.33 492.34L497.98 492.34" fill="none" stroke="#000" stroke-width="1.7" stroke-linecap="round" stroke-linejoin="round"/>
<path d="M43.62 79.33L41.60 80.02L40.25 82.09L39.57 85.53L39.57 87.60L40.25 91.04L41.60 93.10L43.62 93.79L44.97 93.79L47.00 93.10L48.35 91.04L49.02 87.60L49.02 85.53L48.35 82.09L47.00 80.02L44.97 79.33L43.62 79.33M54.42 92.42L53.75 93.10L54.42 93.79L55.10 93.10L54.42 92.42M61.85 82.09L63.20 81.40L64.75 79.33L64.75 93.79M77.38 79.33L75.35 80.02L74.00 82.09L73.32 85.53L73.32 87.60L74.00 91.04L75.35 93.10L77.38 93.79L78.72 93.79L80.75 93.10L82.10 91.04L82.77 87.60L82.77 85.53L82.10 82.09L80.75 80.02L78.72 79.33L77.38 79.33M90.88 79.33L88.85 80.02L87.50 82.09L86.82 85.53L86.82 87.60L87.50 91.04L88.85 93.10L90.88 93.79L92.22 93.79L94.25 93.10L95.60 91.04L96.27 87.60L96.27 85.53L95.60 82.09L94.25 80.02L92.22 79.33L90.88 79.33" fill="none" stroke="#000" stroke-width="1.7" stroke-linecap="round" stroke-linejoin="round"/>
<path d="M43.62 249.09L41.60 249.78L40.25 251.84L39.57 255.28L39.57 257.35L40.25 260.79L41.60 262.86L43.62 263.55L44.97 263.55L47.00 262.86L48.35 260.79L49.02 257.35L49.02 255.28L48.35 251.84L47.00 249.78L44.97 249.09L43.62 249.09M54.42 262.17L53.75 262.86L54.42 263.55L55.10 262.86L54.42 262.17M63.87 249.09L61.85 249.78L60.50 251.84L59.82 255.28L59.82 257.35L60.50 260.79L61.85 262.86L63.87 263.55L65.22 263.55L67.25 262.86L68.60 260.79L69.27 257.35L69.27 255.28L68.60 251.84L67.25 249.78L65.22 249.09L63.87 249.09M75.35 251.84L76.70 251.15L78.25 249.09L78.25 263.55M90.88 249.09L88.85 249.78L87.50 251.84L86.82 255.28L86.82 257.35L87.50 260.79L88.85 262.86L90.88 263.55L92.22 263.55L94.25 262.86L95.60 260.79L96.27 257.35L96.27 255.28L95.60 251.84L94.25 249.78L92.22 249.09L90.88 249.09" fill="none" stroke="#000" stroke-width="1.7" stroke-linecap="round" stroke-linejoin="round"/>
<path d="M43.62 418.84L41.60 419.53L40.25 421.59L39.57 425.04L39.57 427.10L40.25 430.55L41.60 432.61L43.62 433.30L44.97 433.30L47.00 432.61L48.35 430.55L49.02 427.10L49.02 425.04L48.35 421.59L47.00 419.53L44.97 418.84L43.62 418.84M54.42 431.92L53.75 432.61L54.42 433.30L55.10 432.61L54.42 431.92M63.87 418.84L61.85 419.53L60.50 421.59L59.82 425.04L59.82 427.10L60.50 430.55L61.85 432.61L63.87 433.30L65.22 433.30L67.25 432.61L68.60 430.55L69.27 427.10L69.27 425.04L68.60 421.59L67.25 419.53L65.22 418.84L63.87 418.84M77.38 418.84L75.35 419.53L74.00 421.59L73.32 425.04L73.32 427.10L74.00 430.55L75.35 432.61L77.38 433.30L78.72 433.30L80.75 432.61L82.10 430.55L82.77 427.10L82.77 425.04L82.10 421.59L80.75 419.53L78.72 418.84L77.38 418.84M88.85 421.59L90.20 420.91L91.75 418.84L91.75 433.30" fill="none" stroke="#000" stroke-width="1.7" stroke-linecap="round" stroke-linejoin="round"/>
<path d="M254.40 518.44L254.40 532.90M254.40 518.44L263.18 518.44M254.40 525.33L259.80 525.33M254.40 532.90L263.18 532.90M267.22 523.26L267.22 532.90M267.22 526.01L269.25 523.95L270.60 523.26L272.62 523.26L273.97 523.95L274.65 526.01L274.65 532.90M279.38 527.39L287.48 527.39L287.48 526.01L286.80 524.64L286.12 523.95L284.77 523.26L282.75 523.26L281.40 523.95L280.05 525.33L279.38 527.39L279.38 528.77L280.05 530.83L281.40 532.21L282.75 532.90L284.77 532.90L286.12 532.21L287.48 530.83M292.20 523.26L292.20 532.90M292.20 527.39L292.88 525.33L294.23 523.95L295.57 523.26L297.60 523.26M308.40 523.26L308.40 534.28L307.73 536.34L307.05 537.03L305.70 537.72L303.68 537.72L302.32 537.03M308.40 525.33L307.05 523.95L305.70 523.26L303.68 523.26L302.32 523.95L300.98 525.33L300.30 527.39L300.30 528.77L300.98 530.83L302.32 532.21L303.68 532.90L305.70 532.90L307.05 532.21L308.40 530.83M312.45 523.26L316.50 532.90M320.55 523.26L316.50 532.90L315.15 535.65L313.80 537.03L312.45 537.72L311.77 537.72M333.73 518.44L334.40 519.13L335.07 518.44L334.40 517.75L333.73 518.44M334.40 523.26L334.40 532.90M339.80 523.26L339.80 532.90M339.80 526.01L341.82 523.95L343.18 523.26L345.20 523.26L346.55 523.95L347.23 526.01L347.23 532.90M364.38 521.20L365.73 520.51L367.28 518.44L367.28 532.90M379.90 518.44L377.88 519.13L376.52 521.20L375.85 524.64L375.85 526.70L376.52 530.15L377.88 532.21L379.90 532.90L381.25 532.90L383.27 532.21L384.62 530.15L385.30 526.70L385.30 524.64L384.62 521.20L383.27 519.13L381.25 518.44L379.90 518.44M389.24 515.24L390.07 514.82L391.04 513.54L391.04 522.50M402.21 513.54L398.02 522.50M396.35 513.54L402.21 513.54M404.79 527.39L412.89 527.39L412.89 526.01L412.22 524.64L411.54 523.95L410.19 523.26L408.17 523.26L406.82 523.95L405.47 525.33L404.79 527.39L404.79 528.77L405.47 530.83L406.82 532.21L408.17 532.90L410.19 532.90L411.54 532.21L412.89 530.83M415.59 518.44L420.99 532.90M426.39 518.44L420.99 532.90" fill="none" stroke="#000" stroke-width="1.7" stroke-linecap="round" stroke-linejoin="round"/>
<path d="M5.04 288.32L19.50 293.72M5.04 288.32L19.50 282.92M14.68 291.70L14.68 284.95M9.86 279.55L19.50 279.55M12.62 279.55L10.55 277.52L9.86 276.17L9.86 274.15L10.55 272.80L12.62 272.12L19.50 272.12M5.04 267.40L5.73 266.72L5.04 266.05L4.35 266.72L5.04 267.40M9.86 266.72L19.50 266.72M11.93 254.57L10.55 255.25L9.86 257.27L9.86 259.30L10.55 261.32L11.93 262.00L13.30 261.32L13.99 259.97L14.68 256.60L15.37 255.25L16.75 254.57L17.43 254.57L18.81 255.25L19.50 257.27L19.50 259.30L18.81 261.32L17.43 262.00M9.86 247.15L10.55 248.50L11.93 249.85L13.99 250.52L15.37 250.52L17.43 249.85L18.81 248.50L19.50 247.15L19.50 245.12L18.81 243.77L17.43 242.42L15.37 241.75L13.99 241.75L11.93 242.42L10.55 243.77L9.86 245.12L9.86 247.15M5.04 236.35L16.75 236.35L18.81 235.67L19.50 234.32L19.50 232.97M9.86 238.37L9.86 233.65M9.86 228.92L19.50 228.92M13.99 228.92L11.93 228.25L10.55 226.90L9.86 225.55L9.86 223.52M9.86 217.45L10.55 218.80L11.93 220.15L13.99 220.82L15.37 220.82L17.43 220.15L18.81 218.80L19.50 217.45L19.50 215.42L18.81 214.07L17.43 212.72L15.37 212.05L13.99 212.05L11.93 212.72L10.55 214.07L9.86 215.42L9.86 217.45M9.86 207.32L24.32 207.32M11.93 207.32L10.55 205.97L9.86 204.62L9.86 202.60L10.55 201.25L11.93 199.90L13.99 199.22L15.37 199.22L17.43 199.90L18.81 201.25L19.50 202.60L19.50 204.62L18.81 205.97L17.43 207.32M9.86 195.85L19.50 191.80M9.86 187.75L19.50 191.80L22.25 193.15L23.63 194.50L24.32 195.85L24.32 196.52" fill="none" stroke="#000" stroke-width="1.7" stroke-linecap="round" stroke-linejoin="round"/>
<path d="M253.36 174.97L253.36 187.39M253.36 174.97L257.42 174.97L259.16 175.56L260.32 176.75L260.90 177.93L261.48 179.70L261.48 182.66L260.90 184.44L260.32 185.62L259.16 186.80L257.42 187.39L253.36 187.39M264.96 174.97L265.54 175.56L266.12 174.97L265.54 174.38L264.96 174.97M265.54 179.11L265.54 187.39M275.98 180.89L275.40 179.70L273.66 179.11L271.92 179.11L270.18 179.70L269.60 180.89L270.18 182.07L271.34 182.66L274.24 183.25L275.40 183.84L275.98 185.03L275.98 185.62L275.40 186.80L273.66 187.39L271.92 187.39L270.18 186.80L269.60 185.62M280.04 174.97L280.04 187.39M285.84 179.11L280.04 185.03M282.36 182.66L286.42 187.39" fill="none" stroke="#ff2000" stroke-width="2.0" stroke-linecap="round" stroke-linejoin="round"/>
<path d="M260.90 421.82L259.74 420.63L258.00 420.04L255.68 420.04L253.94 420.63L252.78 421.82L252.78 423.00L253.36 424.18L253.94 424.78L255.10 425.37L258.58 426.55L259.74 427.14L260.32 427.73L260.90 428.92L260.90 430.69L259.74 431.88L258.00 432.47L255.68 432.47L253.94 431.88L252.78 430.69M264.96 424.18L264.96 436.61M264.96 425.96L266.12 424.78L267.28 424.18L269.02 424.18L270.18 424.78L271.34 425.96L271.92 427.73L271.92 428.92L271.34 430.69L270.18 431.88L269.02 432.47L267.28 432.47L266.12 431.88L264.96 430.69M275.98 420.04L275.98 432.47M275.98 426.55L277.72 424.78L278.88 424.18L280.62 424.18L281.78 424.78L282.36 426.55L282.36 432.47M286.42 427.73L293.38 427.73L293.38 426.55L292.80 425.37L292.22 424.78L291.06 424.18L289.32 424.18L288.16 424.78L287.00 425.96L286.42 427.73L286.42 428.92L287.00 430.69L288.16 431.88L289.32 432.47L291.06 432.47L292.22 431.88L293.38 430.69M297.44 424.18L297.44 432.47M297.44 427.73L298.02 425.96L299.18 424.78L300.34 424.18L302.08 424.18M304.40 427.73L311.36 427.73L311.36 426.55L310.78 425.37L310.20 424.78L309.04 424.18L307.30 424.18L306.14 424.78L304.98 425.96L304.40 427.73L304.40 428.92L304.98 430.69L306.14 431.88L307.30 432.47L309.04 432.47L310.20 431.88L311.36 430.69" fill="none" stroke="#2400f4" stroke-width="2.0" stroke-linecap="round" stroke-linejoin="round"/>
</svg>
</body></html>
